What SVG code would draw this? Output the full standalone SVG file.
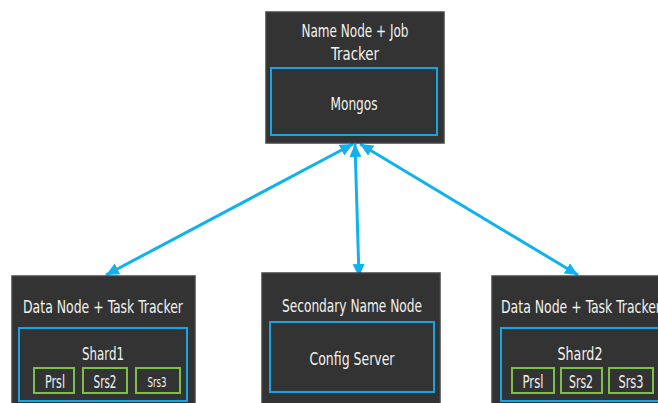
<svg xmlns="http://www.w3.org/2000/svg" width="658" height="403" viewBox="0 0 658 403">
<style>
.box{fill:#333333;stroke:#444;stroke-width:1.5}
.inner{fill:none;stroke:#1aa3e3;stroke-width:2}
.rep{fill:none;stroke:#7cbf4a;stroke-width:2}
.t{fill:#f2f2ee;font-family:"DejaVu Sans Condensed","Liberation Sans",sans-serif;font-size:18.5px;text-anchor:middle}
.s{font-size:17px}
.c{stroke:#0fb2ee;stroke-width:3;fill:none;marker-start:url(#ah);marker-end:url(#ah)}
</style>
<defs>
<marker id="ah" markerUnits="userSpaceOnUse" markerWidth="14" markerHeight="14" viewBox="0 0 14 14" refX="13" refY="7" orient="auto-start-reverse">
<path d="M0,1 L13,7 L0,13 Z" fill="#0fb2ee"/>
</marker>
</defs>
<g id="connectors">
<line class="c" x1="353" y1="144" x2="106" y2="275"/>
<line class="c" x1="355" y1="144" x2="359" y2="277"/>
<line class="c" x1="360" y1="144" x2="578" y2="275"/>
</g>
<g id="jobtracker">
<rect class="box" x="266" y="12" width="178" height="131"/>
<text class="t" x="355" y="37" textLength="107" lengthAdjust="spacingAndGlyphs">Name Node + Job</text>
<text class="t" x="355" y="60" textLength="48" lengthAdjust="spacingAndGlyphs">Tracker</text>
<rect class="inner" x="271" y="68" width="166" height="67"/>
<text class="t" x="354" y="110" textLength="47" lengthAdjust="spacingAndGlyphs">Mongos</text>
</g>
<g id="datanode1">
<rect class="box" x="12" y="276" width="183" height="135"/>
<text class="t" x="103" y="313" textLength="160" lengthAdjust="spacingAndGlyphs">Data Node + Task Tracker</text>
<rect class="inner" x="19" y="328" width="168" height="73"/>
<text class="t" x="103" y="360" textLength="42" lengthAdjust="spacingAndGlyphs">Shard1</text>
<rect class="rep" x="34" y="368" width="40" height="25"/>
<text class="t s" x="55" y="388" textLength="20" lengthAdjust="spacingAndGlyphs">Prsl</text>
<rect class="rep" x="83" y="368" width="44" height="25"/>
<text class="t s" x="105" y="388" textLength="23" lengthAdjust="spacingAndGlyphs">Srs2</text>
<rect class="rep" x="136" y="368" width="44" height="25"/>
<text class="t" x="157" y="387" style="font-size:14px" textLength="19" lengthAdjust="spacingAndGlyphs">Srs3</text>
</g>
<g id="secondary">
<rect class="box" x="262" y="273" width="178" height="138"/>
<text class="t" x="352" y="312" textLength="140" lengthAdjust="spacingAndGlyphs">Secondary Name Node</text>
<rect class="inner" x="270" y="322" width="164" height="70"/>
<text class="t" x="352" y="365" textLength="85" lengthAdjust="spacingAndGlyphs">Config Server</text>
</g>
<g id="datanode2">
<rect class="box" x="492" y="276" width="183" height="135"/>
<text class="t" x="581" y="313" textLength="160" lengthAdjust="spacingAndGlyphs">Data Node + Task Tracker</text>
<rect class="inner" x="501" y="328" width="168" height="73"/>
<text class="t" x="580" y="360" textLength="45" lengthAdjust="spacingAndGlyphs">Shard2</text>
<rect class="rep" x="512" y="368" width="42" height="25"/>
<text class="t s" x="533" y="388" textLength="21" lengthAdjust="spacingAndGlyphs">Prsl</text>
<rect class="rep" x="561" y="368" width="41" height="25"/>
<text class="t s" x="581" y="388" textLength="24" lengthAdjust="spacingAndGlyphs">Srs2</text>
<rect class="rep" x="609" y="368" width="44" height="25"/>
<text class="t s" x="631" y="388" textLength="25" lengthAdjust="spacingAndGlyphs">Srs3</text>
</g>
</svg>
